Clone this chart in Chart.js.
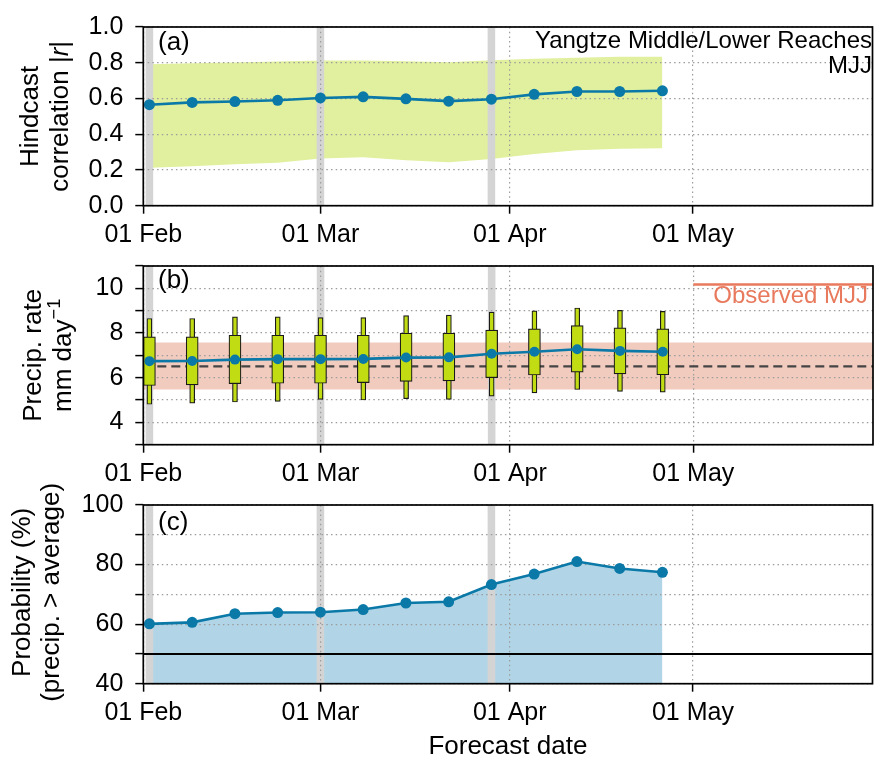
<!DOCTYPE html>
<html>
<head>
<meta charset="utf-8">
<script src="https://cdn.jsdelivr.net/npm/chart.js@4.4.1/dist/chart.umd.min.js"></script>
<style>
  html, body { margin: 0; padding: 0; background: #fff; overflow: hidden; }
  #wrap { position: relative; width: 878px; height: 760px; }
  canvas { position: absolute; left: 0; }
</style>
</head>
<body>
<div id="wrap">
  <canvas id="panelA" width="878" height="260" style="top:0px"></canvas>
  <canvas id="panelB" width="878" height="260" style="top:239px"></canvas>
  <canvas id="panelC" width="878" height="282" style="top:478px"></canvas>
</div>
<script>
// forecast dates, as days counted from 01 Feb (leap year)
const forecastDays = [1, 8, 15, 22, 29, 36, 43, 50, 57, 64, 71, 78, 85];
const tickDays = [0, 29, 60, 90];
const tickLabels = ['01 Feb', '01 Mar', '01 Apr', '01 May'];
const greyDays = [1, 29, 57];
const X_MIN = 0, X_MAX = 119.4;

// (a) hindcast correlation and its range
const corr     = [0.565, 0.578, 0.583, 0.590, 0.603, 0.609, 0.598, 0.585, 0.596, 0.623, 0.639, 0.639, 0.643];
const corrLow  = [0.213, 0.221, 0.232, 0.240, 0.264, 0.271, 0.255, 0.243, 0.262, 0.290, 0.310, 0.318, 0.322];
const corrHigh = [0.792, 0.797, 0.802, 0.807, 0.812, 0.812, 0.808, 0.803, 0.814, 0.823, 0.828, 0.833, 0.833];

// (b) precipitation forecast spread, mm/day
const precipMean = [6.74, 6.75, 6.81, 6.83, 6.83, 6.84, 6.90, 6.91, 7.07, 7.16, 7.27, 7.20, 7.16];
const precipQ1   = [5.65, 5.68, 5.73, 5.75, 5.75, 5.78, 5.83, 5.86, 6.00, 6.12, 6.25, 6.17, 6.13];
const precipQ3   = [7.83, 7.83, 7.90, 7.90, 7.90, 7.90, 7.99, 7.99, 8.13, 8.19, 8.33, 8.23, 8.19];
const precipLow  = [4.81, 4.86, 4.91, 4.94, 5.03, 5.00, 5.06, 5.03, 5.17, 5.32, 5.47, 5.39, 5.35];
const precipHigh = [8.65, 8.65, 8.72, 8.72, 8.69, 8.69, 8.78, 8.80, 8.94, 8.99, 9.12, 9.01, 8.97];
const climBand = [5.47, 7.57];
const climMean = 6.51;
const obsMJJ = 10.17;
const OBS_START = 90;

// (c) probability of above-average precipitation, %
const probAbove = [60.1, 60.6, 63.5, 63.9, 64.0, 64.9, 67.1, 67.5, 73.3, 76.8, 81.0, 78.7, 77.4];
const probRef = 50;

const FONT = '"Liberation Sans", Arial, sans-serif';
const BLUE = '#0a79a8';
const GREY = '#d4d4d4';
const GRID = '#9c9c9c';
const PLOT_TOP = 22.7, PLOT_H = 183, PLOT_LEFT = 143.3;
const TICK_SIZE = 25;

Chart.defaults.font.family = FONT;
Chart.defaults.color = '#000';

function xScale(canvasH, showTitle) {
  return {
    type: 'linear', min: X_MIN, max: X_MAX, offset: false,
    afterBuildTicks: s => { s.ticks = tickDays.map(v => ({ value: v })); },
    afterFit: s => { s.height = canvasH - PLOT_TOP - PLOT_H; },
    ticks: {
      callback: v => tickLabels[tickDays.indexOf(v)],
      font: { size: TICK_SIZE }, padding: 6, maxRotation: 0, autoSkip: false
    },
    grid: { offset: false, color: GRID, lineWidth: 1.2, tickColor: '#000', tickWidth: 1.5, tickLength: 8, tickBorderDash: [] },
    border: { display: false, dash: [1.5, 3.2] },
    title: {
      display: showTitle, text: 'Forecast date',
      font: { size: 26, lineHeight: 1 }, padding: { top: 0, bottom: 0 }
    }
  };
}

function yScale(min, max, step, labelStep, digits) {
  const labelled = v => Math.abs(v / labelStep - Math.round(v / labelStep)) < 1e-6;
  return {
    type: 'linear', min: min, max: max,
    afterFit: s => { s.width = PLOT_LEFT; },
    ticks: {
      stepSize: step, font: { size: TICK_SIZE }, padding: 12, autoSkip: false,
      callback: v => labelled(v) ? v.toFixed(digits) : ''
    },
    grid: { color: GRID, lineWidth: 1.2, tickColor: '#000', tickWidth: 1.5, tickLength: 8, tickBorderDash: [] },
    border: { display: false, dash: [1.5, 3.2] }
  };
}

// grey vertical bands every four weeks
const greyBands = {
  id: 'greyBands',
  beforeDraw(chart) {
    const { ctx, chartArea: a, scales: { x } } = chart;
    ctx.save();
    ctx.fillStyle = GREY;
    greyDays.forEach(d => {
      const x0 = x.getPixelForValue(d - 0.62), x1 = x.getPixelForValue(d + 0.62);
      ctx.fillRect(x0, a.top, x1 - x0, a.bottom - a.top);
    });
    ctx.restore();
  }
};

// black box round the plot area
const frame = {
  id: 'frame',
  afterDraw(chart) {
    const { ctx, chartArea: a } = chart;
    ctx.save();
    ctx.strokeStyle = '#000';
    ctx.lineWidth = 1.7;
    ctx.strokeRect(a.left, a.top, a.right - a.left, a.bottom - a.top);
    ctx.restore();
  }
};

function runFont(r, size) {
  return (r.italic ? 'italic ' : '') + (r.sup ? size * 0.7 : size) + 'px ' + FONT;
}

// rotated two-line y title, with italic / superscript parts
function makeYTitle(lines, size, shift) {
  return {
    id: 'yTitle',
    afterDraw(chart) {
      const { ctx, chartArea: a } = chart;
      const cy = (a.top + a.bottom) / 2 + shift;
      lines.forEach(line => {
        ctx.save();
        ctx.translate(line.x, cy);
        ctx.rotate(-Math.PI / 2);
        ctx.fillStyle = '#000';
        ctx.textBaseline = 'middle';
        const widths = line.runs.map(r => { ctx.font = runFont(r, size); return ctx.measureText(r.text).width; });
        let pos = -widths.reduce((s, w) => s + w, 0) / 2;
        line.runs.forEach((r, i) => {
          ctx.font = runFont(r, size);
          ctx.fillText(r.text, pos, r.sup ? -size * 0.36 : 0);
          pos += widths[i];
        });
        ctx.restore();
      });
    }
  };
}

function makeNotes(notes) {
  return {
    id: 'notes',
    afterDraw(chart) {
      const ctx = chart.ctx;
      ctx.save();
      ctx.textBaseline = 'middle';
      notes.forEach(n => {
        ctx.font = (n.size || 24) + 'px ' + FONT;
        ctx.fillStyle = n.color || '#000';
        ctx.textAlign = n.align || 'left';
        ctx.fillText(n.text, n.x, n.y);
      });
      ctx.restore();
    }
  };
}

function baseOptions(canvasH, yOpts, showTitle) {
  return {
    responsive: false,
    animation: false,
    events: [],
    layout: { padding: { top: PLOT_TOP, left: 0, right: 1, bottom: 0 } },
    scales: { x: xScale(canvasH, showTitle), y: yOpts },
    plugins: {
      legend: { display: false },
      tooltip: { enabled: false },
      filler: { drawTime: 'beforeDraw' }
    }
  };
}

const pts = arr => forecastDays.map((d, i) => ({ x: d, y: arr[i] }));
const flat = v => [{ x: X_MIN, y: v }, { x: X_MAX, y: v }];
const lineStyle = { borderColor: BLUE, borderWidth: 2.6, pointRadius: 5.5, pointBackgroundColor: BLUE, pointBorderWidth: 0, tension: 0, fill: false };
const hidden = { borderWidth: 0, pointRadius: 0 };

// (a)  upper edge fills down to the lower edge (dataset 1)
new Chart(document.getElementById('panelA'), {
  type: 'line',
  data: {
    datasets: [
      { data: pts(corrHigh), ...hidden, fill: '+1', backgroundColor: '#e0f09e', order: 1 },
      { data: pts(corrLow), ...hidden, fill: false, order: 1 },
      { data: pts(corr), ...lineStyle, order: 0 }
    ]
  },
  options: baseOptions(260, yScale(0, 1, 0.2, 0.2, 1), false),
  plugins: [greyBands, frame,
    makeYTitle([
      { x: 31, runs: [{ text: 'Hindcast' }] },
      { x: 61, runs: [{ text: 'correlation |' }, { text: 'r', italic: true }, { text: '|' }] }
    ], 26, 0),
    makeNotes([
      { text: '(a)', x: 158, y: 43, size: 26 },
      { text: 'Yangtze Middle/Lower Reaches', x: 872, y: 41, align: 'right' },
      { text: 'MJJ', x: 872, y: 66, align: 'right' }
    ])]
});

// (b)
new Chart(document.getElementById('panelB'), {
  type: 'line',
  data: {
    datasets: [
      { data: flat(climBand[1]), ...hidden, fill: '+1', backgroundColor: '#f2cbbf', order: 5 },
      { data: flat(climBand[0]), ...hidden, fill: false, order: 5 },
      { data: flat(climMean), borderColor: '#444', borderWidth: 2.2, borderDash: [9, 5], pointRadius: 0, fill: false, order: 4 },
      { data: [{ x: OBS_START, y: obsMJJ }, { x: X_MAX, y: obsMJJ }], borderColor: '#e8795c', borderWidth: 2.5, pointRadius: 0, fill: false, order: 4 },
      {
        type: 'bar', order: 3, grouped: false, barThickness: 5,
        data: forecastDays.map((d, i) => ({ x: d, y: [precipLow[i], precipHigh[i]] })),
        backgroundColor: '#c2dc14', borderColor: '#1a1a1a', borderWidth: 1.2, borderSkipped: false
      },
      {
        type: 'bar', order: 2, grouped: false, barThickness: 12,
        data: forecastDays.map((d, i) => ({ x: d, y: [precipQ1[i], precipQ3[i]] })),
        backgroundColor: '#c2dc14', borderColor: '#1a1a1a', borderWidth: 1.2, borderSkipped: false
      },
      { data: pts(precipMean), ...lineStyle, pointRadius: 5, order: 0 }
    ]
  },
  options: baseOptions(260, yScale(3, 11, 1, 2, 0), false),
  plugins: [greyBands, frame,
    makeYTitle([
      { x: 34, runs: [{ text: 'Precip. rate' }] },
      { x: 64, runs: [{ text: 'mm day' }, { text: '\u22121', sup: true }] }
    ], 26, 0),
    makeNotes([
      { text: '(b)', x: 158, y: 42, size: 26 },
      { text: 'Observed MJJ', x: 868, y: 57, align: 'right', color: '#e8795c' }
    ])]
});

// (c)
new Chart(document.getElementById('panelC'), {
  type: 'line',
  data: {
    datasets: [
      { data: pts(probAbove), ...lineStyle, fill: 'start', backgroundColor: '#b1d5e7', order: 0 },
      { data: flat(probRef), borderColor: '#000', borderWidth: 2, pointRadius: 0, fill: false, order: 1 }
    ]
  },
  options: baseOptions(282, yScale(40, 100, 10, 20, 0), true),
  plugins: [greyBands, frame,
    makeYTitle([
      { x: 23, runs: [{ text: 'Probability (%)' }] },
      { x: 52, runs: [{ text: '(precip. > average)' }] }
    ], 26, -2),
    makeNotes([
      { text: '(c)', x: 158, y: 45, size: 26 }
    ])]
});
</script>
</body>
</html>
